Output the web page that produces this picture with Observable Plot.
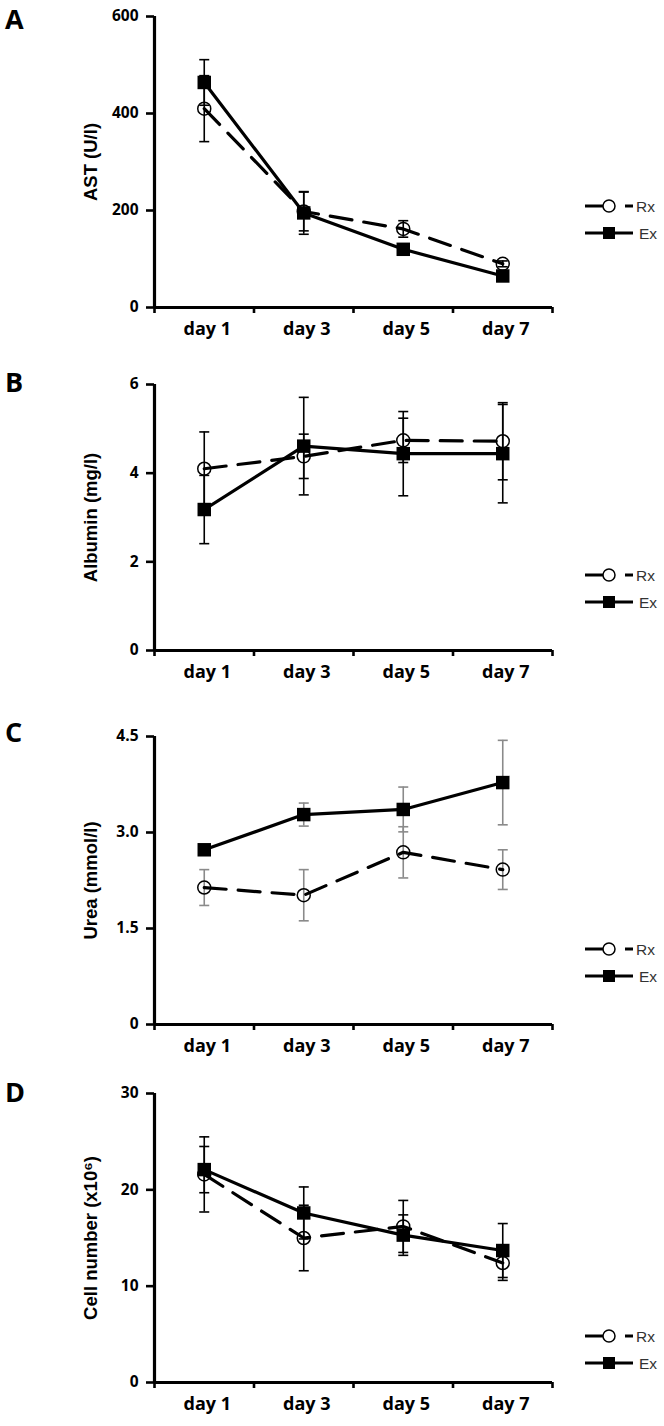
<!DOCTYPE html>
<html><head><meta charset="utf-8">
<script src="https://cdn.jsdelivr.net/npm/d3@7"></script>
<script src="https://cdn.jsdelivr.net/npm/@observablehq/plot@0.6"></script>
<style>
body{margin:0;background:#fff;}
#wrap{position:relative;width:664px;height:1426px;overflow:hidden;background:#fff;}
.panel{position:absolute;left:0;}
.letter{position:absolute;left:5px;font-family:"Open Sans",Lato,sans-serif;font-weight:bold;font-size:27px;line-height:1;color:#000;}
.legend{position:absolute;left:580px;}
</style></head><body><div id="wrap"></div>
<script>
const days = ["day 1", "day 3", "day 5", "day 7"];
const seriesNames = ["Rx", "Ex"];

// A: AST (U/l)
const astRx = [410, 198, 162, 90];
const astRxErr = [68, 40, 17, 6];
const astEx = [464, 195, 120, 65];
const astExErr = [47, 44, 8, 5];
const astTicks = [0, 200, 400, 600];
const astTickLabels = ["0", "200", "400", "600"];

// B: Albumin (mg/l)
const albRx = [4.10, 4.38, 4.74, 4.72];
const albRxErr = [0.83, 0.50, 0.50, 0.87];
const albEx = [3.18, 4.61, 4.44, 4.44];
const albExErr = [0.77, 1.10, 0.95, 1.11];
const albTicks = [0, 2, 4, 6];
const albTickLabels = ["0", "2", "4", "6"];

// C: Urea (mmol/l)
const ureaRx = [2.14, 2.02, 2.69, 2.42];
const ureaRxErr = [0.28, 0.40, 0.40, 0.31];
const ureaEx = [2.73, 3.28, 3.36, 3.78];
const ureaExErr = [0.05, 0.18, 0.35, 0.66];
const ureaTicks = [0, 1.5, 3.0, 4.5];
const ureaTickLabels = ["0", "1.5", "3.0", "4.5"];

// D: Cell number (x10^6)
const cellRx = [21.6, 15.0, 16.2, 12.4];
const cellRxErr = [3.9, 3.4, 2.7, 1.8];
const cellEx = [22.1, 17.6, 15.3, 13.7];
const cellExErr = [2.4, 2.7, 2.1, 2.8];
const cellTicks = [0, 10, 20, 30];
const cellTickLabels = ["0", "10", "20", "30"];

const panels = [
  {letter: "A", label: "AST (U/l)", rx: astRx, rxErr: astRxErr, ex: astEx, exErr: astExErr, ticks: astTicks, tickLabels: astTickLabels, errColor: "#000", frameTop: 16, frameBottom: 307, letterTop: 5, legendTop: 196},
  {letter: "B", label: "Albumin (mg/l)", rx: albRx, rxErr: albRxErr, ex: albEx, exErr: albExErr, ticks: albTicks, tickLabels: albTickLabels, errColor: "#000", frameTop: 384, frameBottom: 650, letterTop: 368, legendTop: 565},
  {letter: "C", label: "Urea (mmol/l)", rx: ureaRx, rxErr: ureaRxErr, ex: ureaEx, exErr: ureaExErr, ticks: ureaTicks, tickLabels: ureaTickLabels, errColor: "#8a8a8a", frameTop: 736, frameBottom: 1024, letterTop: 718, legendTop: 939},
  {letter: "D", label: "Cell number (x10\u2076)", rx: cellRx, rxErr: cellRxErr, ex: cellEx, exErr: cellExErr, ticks: cellTicks, tickLabels: cellTickLabels, errColor: "#000", frameTop: 1093, frameBottom: 1382, letterTop: 1078, legendTop: 1326}
];

const capSymbol = {draw(ctx, size) { ctx.moveTo(-5, 0); ctx.lineTo(5, 0); }};
const wrap = document.getElementById("wrap");
const tickFont = "'Open Sans', Lato, sans-serif";

function makePanel(p) {
  const data = [];
  days.forEach((d, i) => {
    data.push({day: d, x: i + 0.5, series: seriesNames[0], v: p.rx[i], e: p.rxErr[i]});
    data.push({day: d, x: i + 0.5, series: seriesNames[1], v: p.ex[i], e: p.exErr[i]});
  });
  const rx = data.filter(d => d.series === "Rx");
  const ex = data.filter(d => d.series === "Ex");
  const mt = 14, mb = 45;
  const h = p.frameBottom - p.frameTop + mt + mb;
  const yMax = p.ticks[p.ticks.length - 1];
  const chart = Plot.plot({
    width: 664, height: h,
    marginLeft: 154, marginRight: 112, marginTop: mt, marginBottom: mb,
    x: {domain: [0, 4]},
    y: {domain: [0, yMax]},
    style: {fontFamily: tickFont, color: "#000", background: "transparent", overflow: "visible"},
    marks: [
      Plot.ruleX(data, {x: "x", y1: d => d.v - d.e, y2: d => d.v + d.e, stroke: p.errColor, strokeWidth: 1.6}),
      Plot.dot(data, {x: "x", y: d => d.v + d.e, symbol: capSymbol, fill: "none", stroke: p.errColor, strokeWidth: 1.6}),
      Plot.dot(data, {x: "x", y: d => d.v - d.e, symbol: capSymbol, fill: "none", stroke: p.errColor, strokeWidth: 1.6}),
      Plot.line(rx, {x: "x", y: "v", stroke: "#000", strokeWidth: 3.2, strokeDasharray: "22,12"}),
      Plot.line(ex, {x: "x", y: "v", stroke: "#000", strokeWidth: 3.2}),
      Plot.dot(rx, {x: "x", y: "v", r: 6.5, fill: "none", stroke: "#000", strokeWidth: 1.5}),
      Plot.dot(ex, {x: "x", y: "v", symbol: "square", r: 7.6, fill: "#000", stroke: "none"}),
      Plot.ruleX([0], {stroke: "#000", strokeWidth: 3.2}),
      Plot.ruleY([0], {stroke: "#000", strokeWidth: 3.2}),
      Plot.axisY({ticks: p.ticks, tickFormat: d => p.tickLabels[p.ticks.indexOf(d)], tickSize: 8, tickPadding: 8, strokeWidth: 2.6, fontSize: 15.5, fontWeight: "bold", fontFamily: tickFont, label: null}),
      Plot.axisX({ticks: [0, 1, 2, 3, 4], tickFormat: () => "", tickSize: 6, strokeWidth: 2.6, label: null}),
      Plot.axisX({ticks: days.map((d, i) => i + 0.5), tickFormat: d => days[Math.floor(d)], tickSize: 0, tickPadding: 15, dx: 3, fontSize: 18, fontWeight: "bold", fontFamily: tickFont, label: null}),
      Plot.text([p.label], {frameAnchor: "left", textAnchor: "middle", lineAnchor: "middle", rotate: -90, dx: -63, fontSize: 18.5, fontWeight: "bold", fontFamily: "'Liberation Sans', Arial, sans-serif", fill: "#000"})
    ]
  });
  const div = document.createElement("div");
  div.className = "panel";
  div.style.top = (p.frameTop - mt) + "px";
  div.appendChild(chart);
  wrap.appendChild(div);

  const L = document.createElement("div");
  L.className = "letter";
  L.style.top = p.letterTop + "px";
  L.textContent = p.letter;
  wrap.appendChild(L);

  const lg = document.createElement("div");
  lg.className = "legend";
  lg.style.top = p.legendTop + "px";
  lg.innerHTML = `<svg width="80" height="52" xmlns="http://www.w3.org/2000/svg" font-family="'Liberation Sans', Arial, sans-serif" font-size="15.5">
    <line x1="5" y1="10" x2="23" y2="10" stroke="#000" stroke-width="3"/>
    <circle cx="29" cy="10" r="6" fill="none" stroke="#000" stroke-width="1.5"/>
    <line x1="45" y1="10" x2="53" y2="10" stroke="#000" stroke-width="3"/>
    <text x="56" y="15.5" fill="#333">${seriesNames[0]}</text>
    <line x1="5" y1="37" x2="53" y2="37" stroke="#000" stroke-width="3"/>
    <rect x="23" y="31" width="12" height="12" fill="#000"/>
    <text x="59" y="42.5" fill="#333">${seriesNames[1]}</text>
  </svg>`;
  wrap.appendChild(lg);
}
panels.forEach(makePanel);
</script>
</body></html>
